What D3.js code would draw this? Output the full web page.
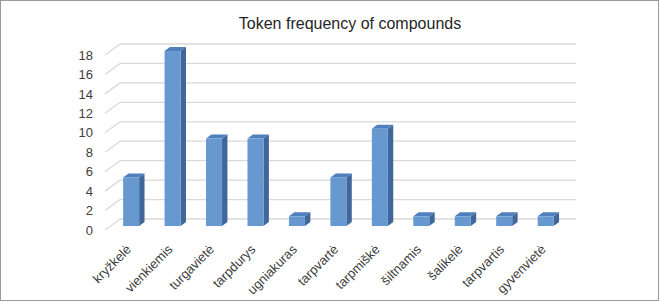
<!DOCTYPE html>
<html>
<head>
<meta charset="utf-8">
<script src="https://cdn.jsdelivr.net/npm/d3@7"></script>
<style>
  body { margin: 0; background: #fff; }
  svg { display: block; font-family: "Liberation Sans", Arial, sans-serif; }
</style>
</head>
<body>
<div id="chart"></div>
<script>
const categories = ["kryžkelė", "vienkiemis", "turgavietė", "tarpdurys", "ugniakuras",
    "tarpvartė", "tarpmiškė", "šiltnamis", "šalikelė", "tarpvartis", "gyvenvietė"];
const values = [5, 18, 9, 9, 1, 5, 10, 1, 1, 1, 1];
const yTicks = [0, 2, 4, 6, 8, 10, 12, 14, 16, 18];
const title = "Token frequency of compounds";

const width = 660, height = 302;
const depth = { dx: 15, dy: -11 };   // floor depth offset (front -> back wall)
const barFront = 0.36, barDepth = 0.36, barWidth = 16;

const svg = d3.select("#chart").append("svg")
    .attr("width", width)
    .attr("height", height);

// chart frame
svg.append("rect")
    .attr("x", 0.5).attr("y", 0.5)
    .attr("width", 658).attr("height", 300)
    .attr("fill", "#fff")
    .attr("stroke", "#9a9a9a");

const xScale = d3.scaleBand()
    .domain(categories)
    .range([105, 561])
    .padding(0);

const yScale = d3.scaleLinear()
    .domain([0, 18])
    .range([230, 55]);

const x0 = xScale.range()[0], x1 = xScale.range()[1];

// back wall gridlines + side wall diagonals
const grid = svg.append("g").attr("stroke", "#d9d9d9").attr("stroke-width", 1.3).attr("fill", "none");
grid.selectAll(".back")
    .data(yTicks)
    .enter().append("line")
    .attr("x1", x0 + depth.dx).attr("x2", x1 + depth.dx)
    .attr("y1", d => yScale(d) + depth.dy).attr("y2", d => yScale(d) + depth.dy);
grid.selectAll(".side")
    .data(yTicks)
    .enter().append("line")
    .attr("x1", x0).attr("x2", x0 + depth.dx)
    .attr("y1", d => yScale(d)).attr("y2", d => yScale(d) + depth.dy);

// y tick labels
svg.append("g").selectAll("text")
    .data(yTicks)
    .enter().append("text")
    .attr("x", 93)
    .attr("y", d => yScale(d))
    .attr("dy", "0.36em")
    .attr("text-anchor", "end")
    .attr("font-size", 13)
    .attr("fill", "#404040")
    .text(d => d);

// 3d bars
const fx = barFront * depth.dx, fy = barFront * depth.dy;
const bx = barDepth * depth.dx, by = barDepth * depth.dy;
const bars = svg.append("g").selectAll("g")
    .data(categories.map((c, i) => ({ c, v: values[i] })))
    .enter().append("g");

bars.each(function(d) {
    const g = d3.select(this);
    const left = xScale(d.c) + xScale.bandwidth() / 2 - barWidth / 2 + fx;
    const right = left + barWidth;
    const top = yScale(d.v) + fy;
    const bottom = yScale(0) + fy;
    // side face
    g.append("path")
        .attr("d", `M${right},${top}L${right + bx},${top + by}L${right + bx},${bottom + by}L${right},${bottom}Z`)
        .attr("fill", "#41669a");
    // top face
    g.append("path")
        .attr("d", `M${left},${top}L${left + bx},${top + by}L${right + bx},${top + by}L${right},${top}Z`)
        .attr("fill", "#4f7fbd");
    // front face
    g.append("rect")
        .attr("x", left).attr("y", top)
        .attr("width", barWidth).attr("height", bottom - top)
        .attr("fill", "#6798d0");
});

// x labels, rotated
svg.append("g").selectAll("text")
    .data(categories)
    .enter().append("text")
    .attr("transform", d => `translate(${xScale(d) + xScale.bandwidth() / 2 + 3},247) rotate(-45)`)
    .attr("text-anchor", "end")
    .attr("dy", "0.35em")
    .attr("font-size", 13)
    .attr("fill", "#404040")
    .text(d => d);

// title
svg.append("text")
    .attr("x", 350)
    .attr("y", 29)
    .attr("text-anchor", "middle")
    .attr("font-size", 16)
    .attr("fill", "#262626")
    .text(title);
</script>
</body>
</html>
